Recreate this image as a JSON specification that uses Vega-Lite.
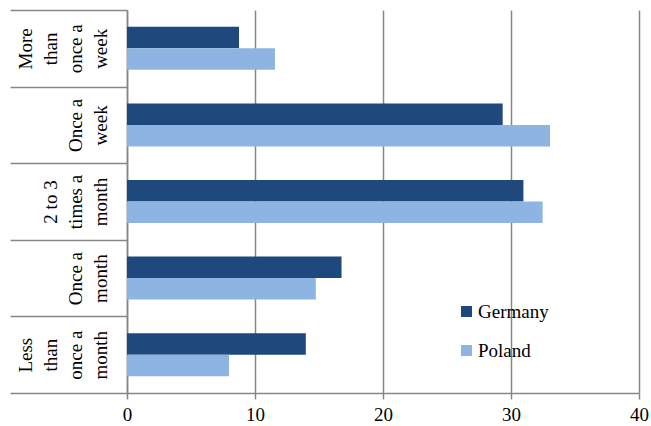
{
  "$schema": "https://vega.github.io/schema/vega-lite/v6.json",
  "width": 512,
  "height": 383,
  "autosize": {"type": "none"},
  "padding": {"left": 127, "top": 10, "right": 12, "bottom": 33},
  "background": "white",
  "config": {
    "view": {"stroke": null},
    "font": "Liberation Serif"
  },
  "data": {
    "values": [
      {"category": "More than once a week", "country": "Germany", "value": 8.75},
      {"category": "More than once a week", "country": "Poland", "value": 11.56},
      {"category": "Once a week", "country": "Germany", "value": 29.35},
      {"category": "Once a week", "country": "Poland", "value": 33.05},
      {"category": "2 to 3 times a month", "country": "Germany", "value": 30.97},
      {"category": "2 to 3 times a month", "country": "Poland", "value": 32.47},
      {"category": "Once a month", "country": "Germany", "value": 16.76},
      {"category": "Once a month", "country": "Poland", "value": 14.75},
      {"category": "Less than once a month", "country": "Germany", "value": 13.97},
      {"category": "Less than once a month", "country": "Poland", "value": 7.97}
    ]
  },
  "mark": {"type": "bar"},
  "encoding": {
    "y": {
      "field": "category",
      "type": "nominal",
      "sort": ["More than once a week", "Once a week", "2 to 3 times a month", "Once a month", "Less than once a month"],
      "scale": {"paddingInner": 0, "paddingOuter": 0},
      "axis": {
        "title": null,
        "domain": true,
        "domainColor": "#868686",
        "domainWidth": 1.5,
        "ticks": true,
        "tickBand": "extent",
        "tickSize": 117,
        "tickColor": "#868686",
        "tickWidth": 1.5,
        "grid": false,
        "labelAngle": 270,
        "labelAlign": "center",
        "labelBaseline": "top",
        "labelPadding": -81,
        "labelFont": "Liberation Serif",
        "labelFontSize": 19,
        "labelLineHeight": -25,
        "labelColor": "black",
        "labelLimit": 0,
        "labelExpr": "datum.value == 'More than once a week' ? ['week', 'once a', 'than', 'More'] : datum.value == 'Once a week' ? ['week', 'Once a'] : datum.value == '2 to 3 times a month' ? ['month', 'times a', '2 to 3'] : datum.value == 'Once a month' ? ['month', 'Once a'] : datum.value == 'Less than once a month' ? ['month', 'once a', 'than', 'Less'] : ''"
      }
    },
    "yOffset": {
      "field": "country",
      "type": "nominal",
      "sort": ["Germany", "Poland"],
      "scale": {"paddingInner": 0, "paddingOuter": 0.78}
    },
    "x": {
      "field": "value",
      "type": "quantitative",
      "scale": {"domain": [0, 40], "nice": false},
      "axis": {
        "title": null,
        "values": [0, 10, 20, 30, 40],
        "domainColor": "#868686",
        "domainWidth": 1.5,
        "tickColor": "#868686",
        "tickWidth": 1.5,
        "tickSize": 6,
        "gridColor": "#868686",
        "gridWidth": 1.5,
        "labelFont": "Liberation Serif",
        "labelFontSize": 19,
        "labelColor": "black",
        "labelPadding": 6,
        "labelFlush": false
      }
    },
    "color": {
      "field": "country",
      "type": "nominal",
      "sort": ["Germany", "Poland"],
      "scale": {"domain": ["Germany", "Poland"], "range": ["#1F497D", "#8EB4E3"]},
      "legend": {
        "title": null,
        "orient": "none",
        "legendX": 330,
        "legendY": 292,
        "padding": 0,
        "symbolType": "square",
        "symbolSize": 121,
        "symbolStrokeWidth": 0,
        "labelFont": "Liberation Serif",
        "labelFontSize": 19,
        "labelColor": "black",
        "labelOffset": 2,
        "rowPadding": 19
      }
    }
  }
}
